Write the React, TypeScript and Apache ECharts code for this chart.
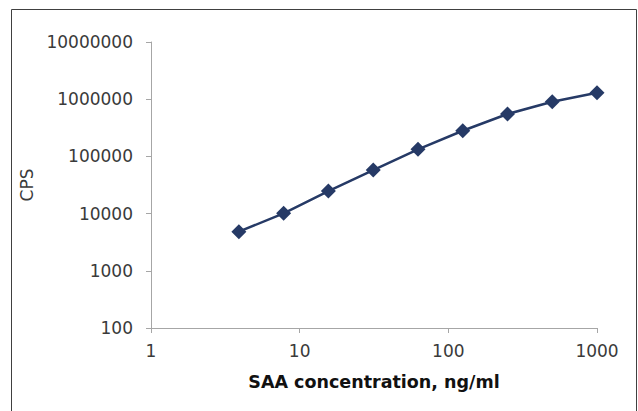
import React, { useEffect, useRef } from "react";
import * as echarts from "echarts";

const concentrations = [3.9, 7.8, 15.6, 31.25, 62.5, 125, 250, 500, 1000];
const cps = [4830, 10100, 24800, 57800, 133000, 281000, 551000, 904000, 1300000];
const xTitle = "SAA concentration, ng/ml";
const yTitle = "CPS";

export default function App() {
  const ref = useRef<HTMLDivElement>(null);
  useEffect(() => {
    if (!ref.current) return;
    const chart = echarts.init(ref.current, undefined, { renderer: "svg" });
    chart.setOption({
      animation: false,
      backgroundColor: "#ffffff",
      grid: { left: 151, right: 41, top: 42, bottom: 83, containLabel: false },
      graphic: [
        {
          type: "rect",
          shape: { x: 11.5, y: 9.5, width: 625, height: 430 },
          style: { fill: "none", stroke: "#404040", lineWidth: 1 },
          silent: true,
        },
      ],
      xAxis: {
        type: "log",
        logBase: 10,
        min: 1,
        max: 1000,
        name: xTitle,
        nameLocation: "middle",
        nameGap: 45,
        nameTextStyle: { fontFamily: "DejaVu Sans", fontWeight: "bold", fontSize: 17.5, color: "#111" },
        axisLine: { lineStyle: { color: "#a6a6a6", width: 1 } },
        axisTick: { show: true, length: 5, lineStyle: { color: "#a6a6a6" } },
        axisLabel: {
          formatter: (v: number) => String(Math.round(v)),
          fontFamily: "DejaVu Sans",
          fontSize: 17,
          color: "#3a3a3a",
          margin: 14,
        },
        splitLine: { show: false },
        minorTick: { show: false },
      },
      yAxis: {
        type: "log",
        logBase: 10,
        min: 100,
        max: 10000000,
        name: yTitle,
        nameLocation: "middle",
        nameGap: 115,
        nameRotate: 90,
        nameTextStyle: { fontFamily: "DejaVu Sans", fontSize: 17, color: "#3a3a3a" },
        axisLine: { show: true, lineStyle: { color: "#a6a6a6", width: 1 } },
        axisTick: { show: true, length: 5, lineStyle: { color: "#a6a6a6" } },
        axisLabel: {
          formatter: (v: number) => String(Math.round(v)),
          fontFamily: "DejaVu Sans",
          fontSize: 17,
          color: "#3a3a3a",
          margin: 18,
        },
        splitLine: { show: false },
      },
      series: [
        {
          type: "line",
          data: concentrations.map((c, i) => [c, cps[i]]),
          symbol: "diamond",
          symbolSize: [15, 15],
          lineStyle: { color: "#263a66", width: 2.5 },
          itemStyle: { color: "#263a66" },
        },
      ],
    });
    return () => chart.dispose();
  }, []);
  return (
    <div
      ref={ref}
      style={{ position: "fixed", left: 0, top: 0, width: 638, height: 411 }}
    />
  );
}
